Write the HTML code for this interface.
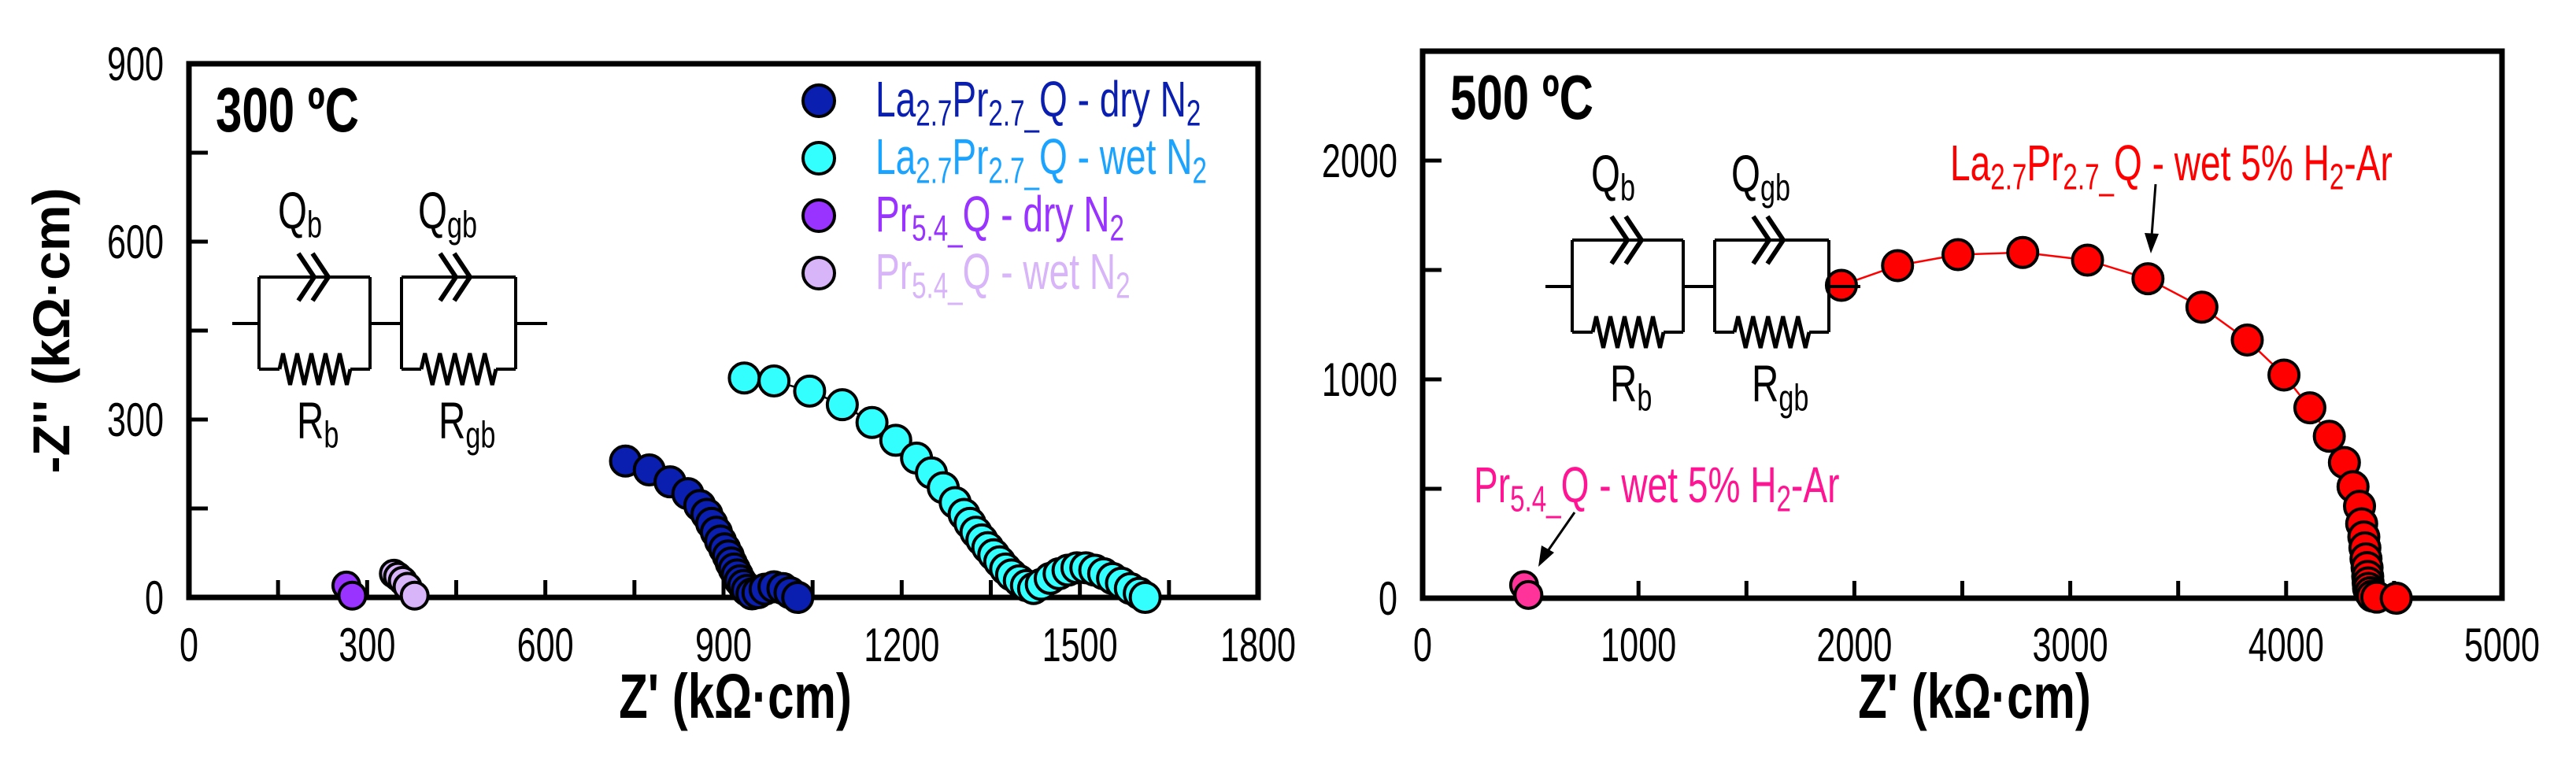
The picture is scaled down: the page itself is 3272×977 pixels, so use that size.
<!DOCTYPE html>
<html><head><meta charset="utf-8"><style>
html,body{margin:0;padding:0;background:#fff}
svg{display:block}
text{font-family:"Liberation Sans",sans-serif}
</style></head><body>
<svg id="chart" width="3272" height="977" viewBox="0 0 3272 977" xmlns="http://www.w3.org/2000/svg">
<g id="L"></g>
<g id="R"></g>
</svg>
<script>
// ---- data (300 C panel) ----
const laDryN2 = [[735,230],[775,215],[810,195],[840,175],[860,155],[872,140],[880,125],[888,110],[895,95],[902,82],[908,70],[913,58],[918,48],[923,38],[928,28],[934,20],[940,12],[948,6],[958,8],[970,14],[985,18],[1000,15],[1012,8],[1025,0]];
const laWetN2 = [[935,370],[985,365],[1045,348],[1100,325],[1150,295],[1190,265],[1225,235],[1250,210],[1270,185],[1290,160],[1305,140],[1315,125],[1325,110],[1335,97],[1345,84],[1355,72],[1365,60],[1375,48],[1385,38],[1398,28],[1410,20],[1422,15],[1435,22],[1450,32],[1465,40],[1480,46],[1495,50],[1510,50],[1525,46],[1540,40],[1555,32],[1570,24],[1585,15],[1600,7],[1610,0]];
const prDryN2 = [[265,20],[275,3]];
const prWetN2 = [[345,40],[352,35],[360,28],[368,18],[380,3]];
const xTicksL = [0,300,600,900,1200,1500,1800];
const yTicksL = [0,300,600,900];
// ---- data (500 C panel) ----
const laWetH2 = [[1940,1430],[2200,1520],[2480,1570],[2780,1580],[3080,1545],[3360,1460],[3610,1330],[3820,1180],[3990,1020],[4110,870],[4200,740],[4270,620],[4310,510],[4340,420],[4350,340],[4360,280],[4365,230],[4370,180],[4375,140],[4378,100],[4380,70],[4382,45],[4390,25],[4400,10],[4420,5],[4510,0]];
const prWetH2 = [[470,60],[490,15]];
const xTicksR = [0,1000,2000,3000,4000,5000];
const yTicksR = [0,1000,2000];

const NS="http://www.w3.org/2000/svg";
function el(parent,tag,attrs){const e=document.createElementNS(NS,tag);for(const k in attrs)e.setAttribute(k,attrs[k]);parent.appendChild(e);return e;}
function txt(parent,x,y,size,str,opts){opts=opts||{};
 const t=el(parent,'text',{transform:`translate(${x},${y}) scale(${opts.sx||0.72},1)`,'font-size':size,'text-anchor':opts.anchor||'start',fill:opts.fill||'#000','font-weight':opts.bold?'bold':'normal'});
 if(typeof str==='string'){t.textContent=str;}else{str.forEach(p=>{const s=el(t,'tspan',p[1]?{'baseline-shift':p[1]==='sub'?'-25%':'0','font-size':size*0.72}:{});s.textContent=p[0];});}
 return t;}

function panel(g,box,xmax,ymax,xt,yt,minorX,minorY){
 const [x0,y0,x1,y1]=box;
 const sx=v=>x0+(v/xmax)*(x1-x0), sy=v=>y1-(v/ymax)*(y1-y0);
 const frame=el(g,'rect',{x:x0,y:y0,width:x1-x0,height:y1-y0,fill:'none',stroke:'#000','stroke-width':7});
 
 for(let v=minorX;v<xmax;v+=minorX){el(g,'line',{x1:sx(v),x2:sx(v),y1:y1,y2:y1-22,stroke:'#000','stroke-width':5});}
 for(let v=minorY;v<ymax;v+=minorY){el(g,'line',{x1:x0,x2:x0+24,y1:sy(v),y2:sy(v),stroke:'#000','stroke-width':5});}
 xt.forEach(v=>{const t=txt(g,sx(v),840,60,String(v),{anchor:'middle'});});
 yt.forEach(v=>{const t=txt(g,x0-32,sy(v)+21,60,String(v),{anchor:'end'});});
 return {sx,sy};
}
function series(g,sc,data,fill,line,r,name){
 if(line){const p=el(g,'polyline',{points:data.map(d=>sc.sx(d[0])+','+sc.sy(d[1])).join(' '),fill:'none',stroke:line,'stroke-width':2.5});
  }
 data.forEach(d=>{const c=el(g,'circle',{cx:sc.sx(d[0]),cy:sc.sy(d[1]),r:r,fill:fill,stroke:'#000','stroke-width':4});
  });
}
function circuit(g,ox,oy){
 const c=el(g,'g',{transform:`translate(${ox},${oy})`,stroke:'#000','stroke-width':4,fill:'none'});
 
 el(c,'path',{d:'M0 59 H34 M175 59 H215 M360 59 H400 M34 0 V117 M175 0 V117 M215 0 V117 M360 0 V117 M34 0 H175 M215 0 H360 M34 117 H60 M150 117 H175 M215 117 H240 M335 117 H360'});
 [[60,150],[240,335]].forEach(([a,b])=>{let d=`M${a} 117`;const n=5,w=(b-a)/n;for(let i=0;i<n;i++){d+=` L${a+w*i+w/4} 97 L${a+w*i+3*w/4} 137`;}d+=` L${b} 117`;el(c,'path',{d,'stroke-width':5});});
 [[84],[264]].forEach(([x])=>{el(c,'path',{d:`M${x} -30 L${x+20} 0 L${x} 30 M${x+18} -30 L${x+38} 0 L${x+18} 30`,'stroke-width':6});});
 const q1=txt(g,ox+58,oy-62,66,[['Q'],['b','sub']]);
 const q2=txt(g,ox+236,oy-62,66,[['Q'],['gb','sub']]);
 const r1=txt(g,ox+82,oy+205,66,[['R'],['b','sub']]);
 const r2=txt(g,ox+262,oy+205,66,[['R'],['gb','sub']]);
}

// Left panel
const L=document.getElementById('L');
const sL=panel(L,[240,81,1598,759],1800,900,xTicksL,yTicksL,150,150);
series(L,sL,laWetN2,'#33ffff','#000',19,'la-wet-n2');
series(L,sL,laDryN2,'#0a1fb0','#000',19,'la-dry-n2');
series(L,sL,prDryN2,'#9933ff',null,17,'pr-dry-n2');
series(L,sL,prWetN2,'#d8b4f8',null,17,'pr-wet-n2');
circuit(L,295,352);
let t=txt(L,274,167,80,'300 ºC',{bold:true,sx:0.75});
const leg=[['#0a1fb0','#0a1fb0',[['La'],['2.7','sub'],['Pr'],['2.7_','sub'],['Q - dry N'],['2','sub']]],
 ['#33ffff','#1aa3ff',[['La'],['2.7','sub'],['Pr'],['2.7_','sub'],['Q - wet N'],['2','sub']]],
 ['#9933ff','#9933ff',[['Pr'],['5.4_','sub'],['Q - dry N'],['2','sub']]],
 ['#d8b4f8','#d8b4f8',[['Pr'],['5.4_','sub'],['Q - wet N'],['2','sub']]]];
leg.forEach((l,i)=>{const y=128+i*73;const c=el(L,'circle',{cx:1040,cy:y,r:20,fill:l[0],stroke:'#000','stroke-width':4});
 
 const tt=txt(L,1112,y+20,64,l[2],{fill:l[1]});});
t=txt(L,934,912,80,"Z' (kΩ·cm)",{bold:true,anchor:'middle',sx:0.75});
t=el(L,'text',{transform:'translate(88,420) rotate(-90)','font-size':66,'font-weight':'bold','text-anchor':'middle'});t.textContent="-Z'' (kΩ·cm)";


// Right panel
const R=document.getElementById('R');
const sR=panel(R,[1807,65,3178,760],5000,2500,xTicksR,yTicksR,500,500);
series(R,sR,laWetH2,'#ff0000','#ff0000',19,'la-wet-h2');
series(R,sR,prWetH2,'#ff3399',null,17,'pr-wet-h2');
circuit(R,1963,305);
t=txt(R,1842,151,80,'500 ºC',{bold:true,sx:0.75});
t=txt(R,2477,229,64,[['La'],['2.7','sub'],['Pr'],['2.7_','sub'],['Q - wet 5% H'],['2','sub'],['-Ar']],{fill:'#ff0000'});
t=txt(R,1872,638,64,[['Pr'],['5.4_','sub'],['Q - wet 5% H'],['2','sub'],['-Ar']],{fill:'#ff1493'});
el(R,'path',{d:'M2738 234 L2733 300',stroke:'#000','stroke-width':3});
el(R,'path',{d:'M2724 296 L2732 322 L2742 297 Z',fill:'#000'});
el(R,'path',{d:'M2000 651 L1966 700',stroke:'#000','stroke-width':3});
el(R,'path',{d:'M1958 693 L1954 720 L1974 702 Z',fill:'#000'});
t=txt(R,2508,912,80,"Z' (kΩ·cm)",{bold:true,anchor:'middle',sx:0.75});
</script>
</body></html>
